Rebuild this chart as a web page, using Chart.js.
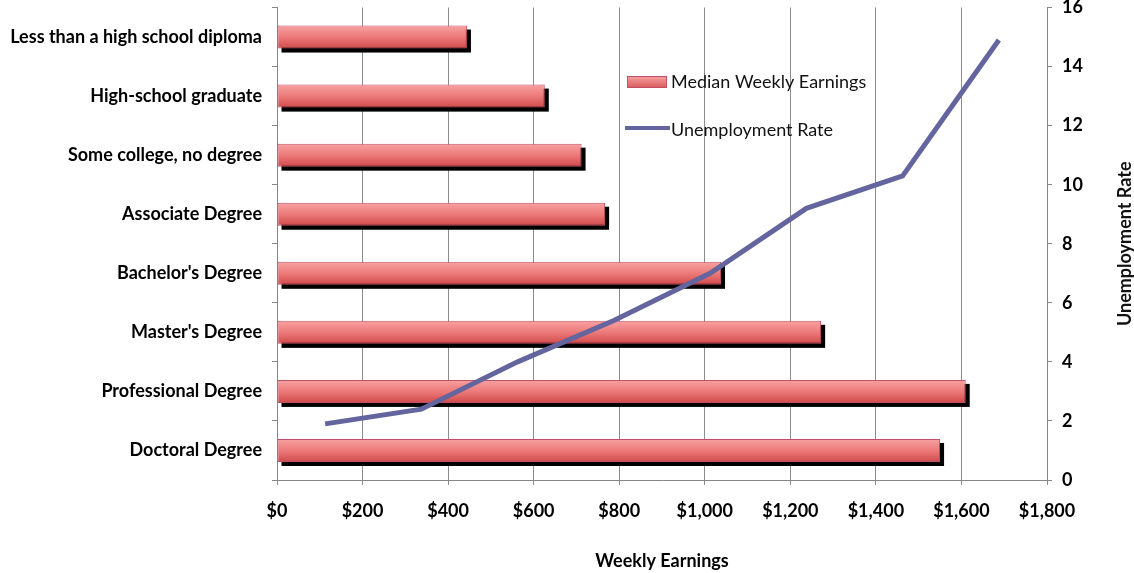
<!DOCTYPE html>
<html>
<head>
<meta charset="utf-8">
<script src="https://cdn.jsdelivr.net/npm/chart.js@4.4.1/dist/chart.umd.min.js"></script>
<style>
  html, body { margin: 0; padding: 0; background: #fff; }
  #wrap { position: relative; width: 1134px; height: 573px; }
</style>
</head>
<body>
<div id="wrap"><canvas id="edu-chart"></canvas></div>
<script>
const categories = [
  "Less than a high school diploma",
  "High-school graduate",
  "Some college, no degree",
  "Associate Degree",
  "Bachelor's Degree",
  "Master's Degree",
  "Professional Degree",
  "Doctoral Degree"
];
const earnings = [444, 626, 712, 767, 1038, 1272, 1610, 1550];
const unemployment = [14.9, 10.3, 9.2, 7.0, 5.4, 4.0, 2.4, 1.9];
const earningsTicks = [0, 200, 400, 600, 800, 1000, 1200, 1400, 1600, 1800];
const rateTicks = [0, 2, 4, 6, 8, 10, 12, 14, 16];

const barName = "Median Weekly Earnings";
const lineName = "Unemployment Rate";
const xTitle = "Weekly Earnings";
const y2Title = "Unemployment Rate";

const axisGray = "#868686";
const gridGray = "#8c8c8c";
const lineColor = "#64649e";
const fontFamily = "Lato, 'Open Sans', sans-serif";
const tickFont = { family: fontFamily, size: 18, weight: "bold" };

function barFill(ctx) {
  const chart = ctx.chart;
  const y = chart.scales.y;
  if (!y || !chart.chartArea) return "#e06868";
  const c = y.getPixelForValue(ctx.dataIndex);
  const g = chart.ctx.createLinearGradient(0, c - 12, 0, c + 12);
  g.addColorStop(0, "#f9a3a3");
  g.addColorStop(0.5, "#ec7a7a");
  g.addColorStop(1, "#d04848");
  return g;
}

function noOverflow(s) {
  s.paddingTop = 0;
  s.paddingBottom = 0;
  s.paddingLeft = 0;
  s.paddingRight = 0;
}

// black drop shadow behind the bars, offset down and right
const barShadow = {
  id: "barShadow",
  beforeDatasetDraw(chart, args) {
    if (args.index !== 0) return;
    const ctx = chart.ctx;
    ctx.save();
    ctx.fillStyle = "#000";
    args.meta.data.forEach(function (bar) {
      const h = bar.height;
      ctx.fillRect(bar.base + 4, bar.y - h / 2 + 4, bar.x - bar.base, h);
    });
    ctx.restore();
  }
};

// legend inside the plot and the right axis title (reads bottom to top)
const extras = {
  id: "extras",
  afterDraw(chart) {
    const ctx = chart.ctx;
    ctx.save();
    const lg = ctx.createLinearGradient(0, 76, 0, 88);
    lg.addColorStop(0, "#f9a3a3");
    lg.addColorStop(1, "#d85858");
    ctx.fillStyle = "#c05068";
    ctx.fillRect(627, 76, 40, 12);
    ctx.fillStyle = lg;
    ctx.fillRect(628, 77, 38, 10);
    ctx.strokeStyle = lineColor;
    ctx.lineWidth = 4;
    ctx.beginPath();
    ctx.moveTo(625, 128);
    ctx.lineTo(670, 128);
    ctx.stroke();

    ctx.fillStyle = "#111";
    ctx.font = "18px " + fontFamily;
    ctx.textBaseline = "middle";
    ctx.textAlign = "left";
    ctx.fillText(barName, 671, 82);
    ctx.fillText(lineName, 671, 130);

    ctx.font = "bold 18px " + fontFamily;
    ctx.translate(1125, (chart.chartArea.top + chart.chartArea.bottom) / 2);
    ctx.rotate(-Math.PI / 2);
    ctx.textAlign = "center";
    ctx.fillText(y2Title, 0, 0);
    ctx.restore();
  }
};

new Chart(document.getElementById("edu-chart"), {
  type: "bar",
  data: {
    labels: categories,
    datasets: [
      {
        label: barName,
        data: earnings,
        xAxisID: "x",
        yAxisID: "y",
        backgroundColor: barFill,
        borderColor: "#c05068",
        borderWidth: 1,
        borderSkipped: false,
        grouped: false,
        barPercentage: 0.39,
        categoryPercentage: 1,
        order: 2
      },
      {
        type: "line",
        label: lineName,
        indexAxis: "x",
        data: unemployment.slice().reverse(),
        xAxisID: "x2",
        yAxisID: "y2",
        borderColor: lineColor,
        borderWidth: 5,
        pointRadius: 0,
        tension: 0,
        order: 1
      }
    ]
  },
  options: {
    indexAxis: "y",
    responsive: true,
    maintainAspectRatio: false,
    animation: false,
    layout: { padding: { top: 7.5, left: 0, right: 0, bottom: 0 } },
    plugins: { legend: { display: false }, tooltip: { enabled: false } },
    scales: {
      x: {
        type: "linear",
        position: "bottom",
        min: 0,
        max: 1800,
        offset: false,
        afterBuildTicks: function (s) { s.ticks = earningsTicks.map(v => ({ value: v })); },
        afterFit: function (s) { s.height = 93; noOverflow(s); },
        ticks: {
          color: "#000",
          padding: 15,
          font: tickFont,
          callback: v => "$" + v.toLocaleString("en-US")
        },
        grid: { color: gridGray, tickLength: 5 },
        border: { color: axisGray },
        title: {
          display: true,
          text: xTitle,
          color: "#000",
          padding: { top: 4, bottom: 1 },
          font: tickFont
        }
      },
      y: {
        type: "category",
        position: "left",
        offset: true,
        afterFit: function (s) { s.width = 277; noOverflow(s); },
        ticks: {
          color: "#000",
          padding: 10,
          font: tickFont
        },
        grid: { offset: true, drawOnChartArea: false, tickLength: 5, color: axisGray },
        border: { color: axisGray }
      },
      x2: {
        type: "category",
        position: "top",
        display: false,
        offset: true,
        labels: categories.slice().reverse()
      },
      y2: {
        type: "linear",
        position: "right",
        min: 0,
        max: 16,
        offset: false,
        afterBuildTicks: function (s) { s.ticks = rateTicks.map(v => ({ value: v })); },
        afterFit: function (s) { s.width = 87; noOverflow(s); },
        ticks: {
          color: "#000",
          padding: 10,
          font: tickFont
        },
        grid: { offset: false, drawOnChartArea: false, tickLength: 5, color: axisGray },
        border: { color: axisGray }
      }
    }
  },
  plugins: [barShadow, extras]
});
</script>
</body>
</html>
